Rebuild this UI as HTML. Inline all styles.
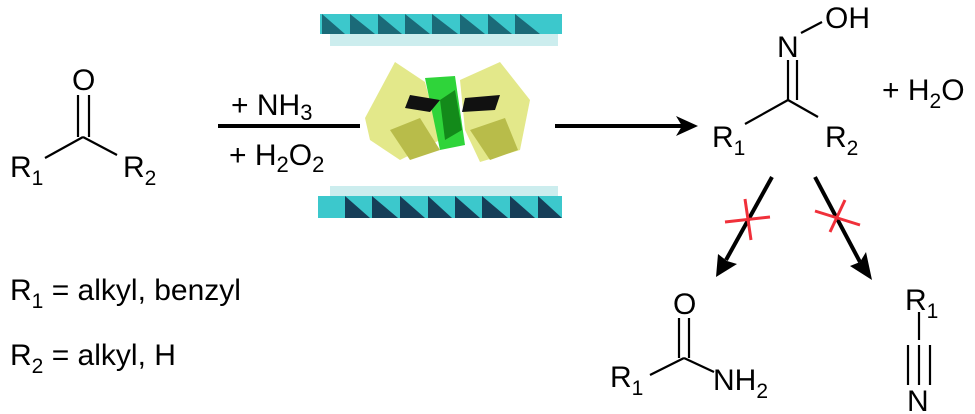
<!DOCTYPE html>
<html><head><meta charset="utf-8"><style>
html,body{margin:0;padding:0;background:#fff;width:975px;height:414px;overflow:hidden}
text{font-family:"Liberation Sans",Arial,sans-serif;fill:#000}
</style></head><body>
<svg width="975" height="414" viewBox="0 0 975 414" xmlns="http://www.w3.org/2000/svg">
<g font-size="30">
<text x="72" y="90">O</text>
<g stroke="#000" stroke-width="2.2" fill="none">
<line x1="78" y1="95" x2="78" y2="137"/><line x1="89" y1="95" x2="89" y2="137"/>
<line x1="83" y1="137" x2="45" y2="158"/><line x1="83" y1="137" x2="117" y2="155"/>
</g>
<text x="10" y="177">R<tspan font-size="21" dy="8">1</tspan></text>
<text x="123" y="177">R<tspan font-size="21" dy="8">2</tspan></text>
<text x="10" y="300">R<tspan font-size="21" dy="8">1</tspan><tspan dy="-8"> = alkyl, benzyl</tspan></text>
<text x="10" y="365">R<tspan font-size="21" dy="8">2</tspan><tspan dy="-8"> = alkyl, H</tspan></text>
<text x="231" y="115">+ NH<tspan font-size="22" dy="5">3</tspan></text>
<text x="229" y="165">+ H<tspan font-size="22" dy="7">2</tspan><tspan dy="-7">O</tspan><tspan font-size="22" dy="7">2</tspan></text>
</g>
<line x1="218" y1="126" x2="360" y2="126" stroke="#000" stroke-width="4"/>
<line x1="555" y1="126" x2="682" y2="126" stroke="#000" stroke-width="4"/>
<path d="M676,116 L698,126 L676,136 L682,126 Z" fill="#000"/>
<rect x="320" y="14" width="242" height="20" fill="#3cc8cc"/>
<g fill="#1b6a78">
<polygon points="322,14 345,34 322,34"/><polygon points="350,14 375,34 350,34"/><polygon points="378,14 402,34 378,34"/><polygon points="405,14 430,34 405,34"/><polygon points="432,14 458,34 432,34"/><polygon points="460,14 485,34 460,34"/><polygon points="488,14 512,34 488,34"/><polygon points="515,14 540,34 515,34"/>
</g>
<rect x="330" y="34" width="228" height="12" fill="#bfe9ea" opacity="0.8"/>
<rect x="330" y="186" width="228" height="10" fill="#bfe9ea" opacity="0.8"/>
<rect x="318" y="196" width="244" height="22" fill="#3cc8cc"/>
<g fill="#163e58">
<polygon points="345,196 370,218 345,218"/><polygon points="372,196 398,218 372,218"/><polygon points="400,196 425,218 400,218"/><polygon points="428,196 452,218 428,218"/><polygon points="455,196 480,218 455,218"/><polygon points="482,196 508,218 482,218"/><polygon points="510,196 535,218 510,218"/><polygon points="538,196 562,218 538,218"/>
</g>
<polygon points="365,118 395,62 425,82 440,140 400,160 370,140" fill="#e3e88a"/>
<polygon points="460,80 500,62 530,100 520,150 480,162 465,130" fill="#e3e88a"/>
<polygon points="390,130 420,118 440,150 410,160" fill="#b8bc4a"/>
<polygon points="470,130 505,118 518,150 490,160" fill="#b8bc4a"/>
<polygon points="425,78 455,76 465,145 440,150" fill="#2fd43a"/>
<polygon points="440,100 455,90 462,130 445,140" fill="#138a1a"/>
<polygon points="410,95 440,100 430,112 405,108" fill="#111"/>
<polygon points="465,98 500,95 495,110 462,112" fill="#111"/>
<g font-size="30">
<text x="825" y="28">OH</text>
<text x="777" y="57">N</text>
<text x="882" y="100">+ H<tspan font-size="21" dy="8">2</tspan><tspan dy="-8">O</tspan></text>
<text x="712" y="147">R<tspan font-size="21" dy="8">1</tspan></text>
<text x="825" y="147">R<tspan font-size="21" dy="8">2</tspan></text>
<text x="673" y="314">O</text>
<text x="610" y="387">R<tspan font-size="21" dy="8">1</tspan></text>
<text x="713" y="390">NH<tspan font-size="21" dy="8">2</tspan></text>
<text x="905" y="310">R<tspan font-size="21" dy="8">1</tspan></text>
<text x="907" y="411">N</text>
</g>
<g stroke="#000" stroke-width="2.2" fill="none">
<line x1="801" y1="33" x2="822" y2="22"/>
<line x1="788" y1="60" x2="788" y2="100"/><line x1="797" y1="60" x2="797" y2="100"/>
<line x1="788" y1="100" x2="745" y2="124"/><line x1="788" y1="100" x2="818" y2="117"/>
<line x1="679" y1="318" x2="679" y2="358"/><line x1="689" y1="318" x2="689" y2="358"/>
<line x1="684" y1="358" x2="650" y2="375"/><line x1="684" y1="358" x2="714" y2="372"/>
<line x1="919" y1="312" x2="919" y2="340"/>
<line x1="908" y1="345" x2="908" y2="385"/><line x1="919" y1="345" x2="919" y2="385"/><line x1="930" y1="345" x2="930" y2="385"/>
</g>
<line x1="772" y1="177" x2="726" y2="260" stroke="#000" stroke-width="4"/>
<path d="M716,277 L718,254 L727,261 L737,264 Z" fill="#000"/>
<line x1="815" y1="177" x2="860" y2="262" stroke="#000" stroke-width="4"/>
<path d="M872,280 L850,266 L860,262 L866,252 Z" fill="#000"/>
<g stroke="#f0303a" stroke-width="3">
<line x1="725" y1="222" x2="770" y2="217"/><line x1="745" y1="199" x2="751" y2="240"/>
<line x1="815" y1="211" x2="860" y2="225"/><line x1="845" y1="200" x2="830" y2="232"/>
</g>
</svg>
</body></html>
